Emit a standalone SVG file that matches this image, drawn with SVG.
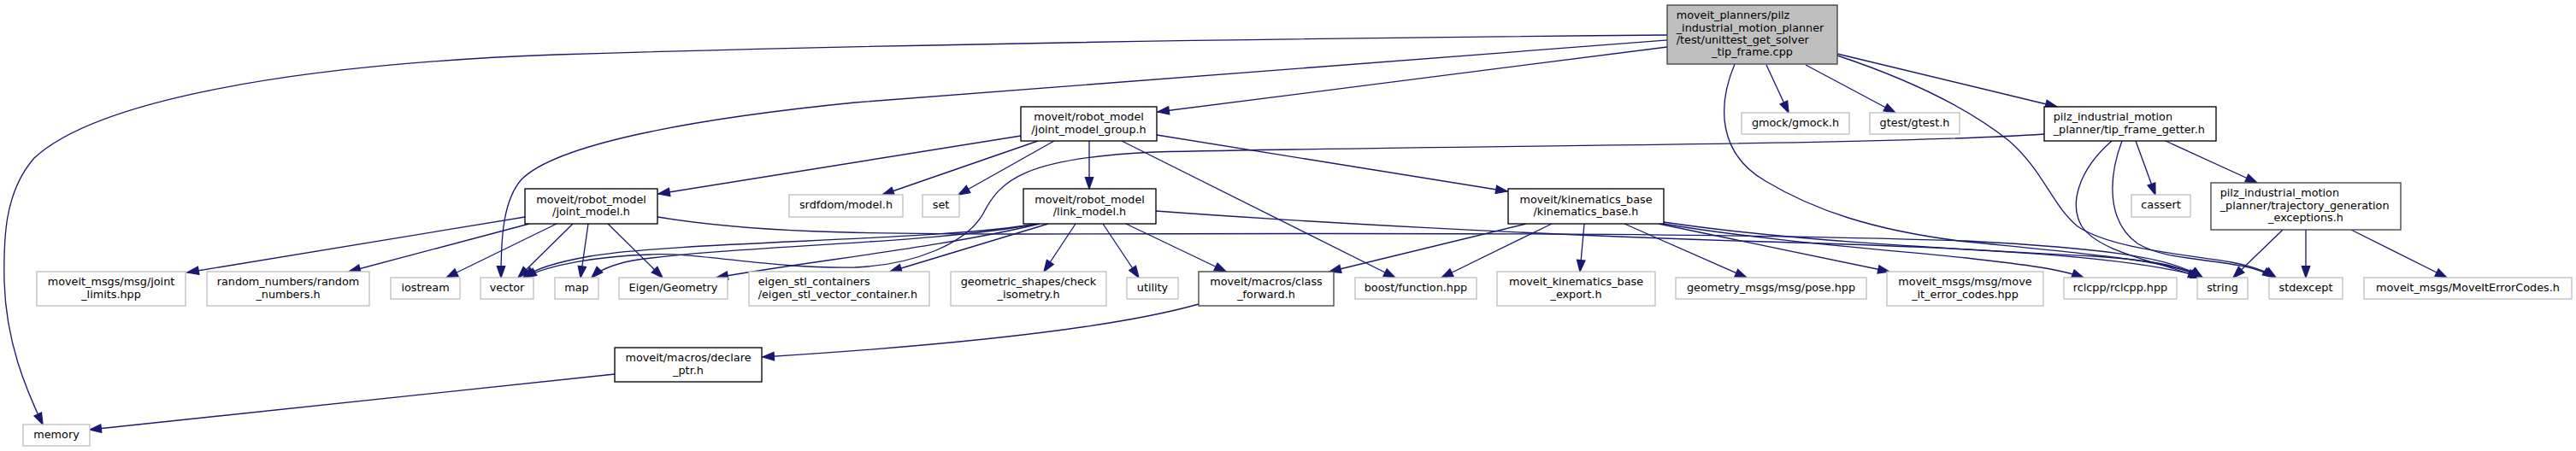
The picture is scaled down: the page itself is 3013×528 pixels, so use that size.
<svg xmlns="http://www.w3.org/2000/svg" width="3013" height="528" viewBox="0 0 3013 528">
<style>
text{font-family:"DejaVu Sans","Liberation Sans",sans-serif;font-size:12.8px;fill:#000}
.c{text-anchor:middle}
.l{text-anchor:start}
rect.n{fill:#fff;stroke-width:1.33}
.doc{stroke:#000}
.doc2{stroke:#404040}
.und{stroke:#bfbfbf}
.main{fill:#bfbfbf !important;stroke:#404040}
.e{fill:none;stroke:#191970;stroke-width:1.33;marker-end:url(#ah)}
</style>
<defs>
<marker id="ah" markerUnits="userSpaceOnUse" markerWidth="16" markerHeight="12" refX="13.3" refY="4.67" orient="auto" overflow="visible">
<path d="M0,0 L13.3,4.67 L0,9.33 z" fill="#191970" stroke="#191970" stroke-width="1.33"/>
</marker>
</defs>
<rect width="3013" height="528" fill="#fff"/>
<g id="edges">
<path class="e" d="M1950,41 C1600,44 1100,50 650,64 C330,76 110,120 40,185 C5,225 4,280 5,330 C7,400 30,455 50,497"/>
<path class="e" d="M1950,47 C1600,72 1250,100 1000,120 C800,140 650,170 610,210 C588,235 586,280 586,325"/>
<path class="e" d="M1950,55 L1354,131"/>
<path class="e" d="M2066,76 L2092,132"/>
<path class="e" d="M2112,76 L2217,132"/>
<path class="e" d="M2149,63 L2406,125"/>
<path class="e" d="M2029,75 C2008,125 2010,180 2065,212 C2120,245 2190,270 2300,283 C2450,298 2540,305 2576,325"/>
<path class="e" d="M2149,65 C2230,92 2300,125 2350,165 C2390,200 2400,240 2430,265 C2470,292 2560,298 2610,307 C2635,312 2650,317 2662,325"/>
<path class="e" d="M1194,159 L770,227"/>
<path class="e" d="M1214,165 L1032,228"/>
<path class="e" d="M1233,165 L1121,228"/>
<path class="e" d="M1274,165 L1274,221"/>
<path class="e" d="M1353,158 L1763,224"/>
<path class="e" d="M1312,165 L1632,325"/>
<path class="e" d="M614,254 L219,319"/>
<path class="e" d="M619,262 L408,318"/>
<path class="e" d="M651,262 L522,325"/>
<path class="e" d="M670,262 L606,325"/>
<path class="e" d="M688,262 L679,325"/>
<path class="e" d="M711,262 L775,325"/>
<path class="e" d="M769,254 C880,272 1000,274 1200,274 C1600,273 2000,272 2300,282 C2450,290 2540,300 2576,325"/>
<path class="e" d="M1212,262 C1100,282 800,282 690,300 C650,307 625,315 612,325"/>
<path class="e" d="M1212,262 C1100,285 850,288 740,305 C715,310 700,317 692,325"/>
<path class="e" d="M1216,262 C1100,290 950,305 838,325"/>
<path class="e" d="M1226,262 L1041,318"/>
<path class="e" d="M1258,262 L1221,318"/>
<path class="e" d="M1290,262 L1332,325"/>
<path class="e" d="M1317,262 L1434,318"/>
<path class="e" d="M1352,247 C1500,258 1800,276 2100,284 C2300,290 2500,300 2576,325"/>
<path class="e" d="M1785,262 L1555,318"/>
<path class="e" d="M1815,262 L1686,325"/>
<path class="e" d="M1853,262 L1848,318"/>
<path class="e" d="M1900,262 L2043,325"/>
<path class="e" d="M1940,262 L2210,318"/>
<path class="e" d="M1946,262 C2050,280 2200,292 2300,302 C2370,310 2410,315 2437,325"/>
<path class="e" d="M1946,260 C2100,283 2300,292 2450,300 C2520,305 2555,312 2576,325"/>
<path class="e" d="M2391,157 C2200,170 1700,170 1350,178 C1200,185 1170,210 1150,250 C1130,285 1070,310 1000,313 C900,315 820,295 760,298 C700,300 640,310 614,325"/>
<path class="e" d="M2470,165 C2430,200 2420,240 2435,265 C2455,295 2520,305 2573,325"/>
<path class="e" d="M2482,165 C2465,210 2465,260 2500,285 C2540,310 2620,300 2660,325"/>
<path class="e" d="M2498,165 L2521,228"/>
<path class="e" d="M2533,165 L2640,214"/>
<path class="e" d="M2670,269 L2612,325"/>
<path class="e" d="M2697,269 L2697,325"/>
<path class="e" d="M2750,269 L2862,325"/>
<path class="e" d="M1402,356 C1300,385 1100,405 892,418"/>
<path class="e" d="M719,438 L105,503"/>
</g>
<g id="node-main"><rect class="n main" x="1950" y="6" width="199" height="69"/>
<text class="l" x="1960.7" y="22.2">moveit_planners/pilz</text><text class="l" x="1960.7" y="36.6">_industrial_motion_planner</text><text class="l" x="1960.7" y="51">/test/unittest_get_solver</text><text class="c" x="2049.5" y="65.4">_tip_frame.cpp</text></g>
<g id="node-jmg"><rect class="n doc" x="1194" y="125" width="159" height="40"/>
<text class="c" x="1273.5" y="141.1">moveit/robot_model</text><text class="c" x="1273.5" y="155.5">/joint_model_group.h</text></g>
<g id="node-gmock"><rect class="n und" x="2037" y="132" width="126" height="25"/><text class="c" x="2100" y="147.8">gmock/gmock.h</text></g>
<g id="node-gtest"><rect class="n und" x="2187" y="132" width="105" height="25"/><text class="c" x="2239.5" y="147.8">gtest/gtest.h</text></g>
<g id="node-tfg"><rect class="n doc" x="2391" y="125" width="201" height="40"/>
<text class="l" x="2401.7" y="141.1">pilz_industrial_motion</text><text class="l" x="2401.7" y="155.5">_planner/tip_frame_getter.h</text></g>
<g id="node-joint-model"><rect class="n doc" x="614" y="221" width="155" height="41"/>
<text class="c" x="691.5" y="237.6">moveit/robot_model</text><text class="c" x="691.5" y="252">/joint_model.h</text></g>
<g id="node-srdfdom"><rect class="n und" x="923" y="228" width="133" height="26"/><text class="c" x="989.5" y="244.3">srdfdom/model.h</text></g>
<g id="node-set"><rect class="n und" x="1079" y="228" width="43" height="26"/><text class="c" x="1100.5" y="244.3">set</text></g>
<g id="node-link-model"><rect class="n doc" x="1197" y="221" width="155" height="41"/>
<text class="c" x="1274.5" y="237.6">moveit/robot_model</text><text class="c" x="1274.5" y="252">/link_model.h</text></g>
<g id="node-kin-base"><rect class="n doc" x="1764" y="221" width="182" height="41"/>
<text class="c" x="1855" y="237.6">moveit/kinematics_base</text><text class="c" x="1855" y="252">/kinematics_base.h</text></g>
<g id="node-cassert"><rect class="n und" x="2493" y="228" width="69" height="26"/><text class="c" x="2527.5" y="244.3">cassert</text></g>
<g id="node-traj"><rect class="n doc2" x="2586" y="214" width="222" height="55"/>
<text class="l" x="2596.7" y="230.4">pilz_industrial_motion</text><text class="l" x="2596.7" y="244.8">_planner/trajectory_generation</text><text class="c" x="2697" y="259.2">_exceptions.h</text></g>
<g id="node-joint-limits"><rect class="n und" x="43" y="318" width="174" height="40"/>
<text class="c" x="130" y="334.1">moveit_msgs/msg/joint</text><text class="c" x="130" y="348.5">_limits.hpp</text></g>
<g id="node-random"><rect class="n und" x="242" y="318" width="190" height="40"/>
<text class="c" x="337" y="334.1">random_numbers/random</text><text class="c" x="337" y="348.5">_numbers.h</text></g>
<g id="node-iostream"><rect class="n und" x="457" y="325" width="81" height="25"/><text class="c" x="497.5" y="340.8">iostream</text></g>
<g id="node-vector"><rect class="n und" x="562" y="325" width="62" height="25"/><text class="c" x="593" y="340.8">vector</text></g>
<g id="node-map"><rect class="n und" x="649" y="325" width="51" height="25"/><text class="c" x="674.5" y="340.8">map</text></g>
<g id="node-eigen-geom"><rect class="n und" x="724" y="325" width="127" height="25"/><text class="c" x="787.5" y="340.8">Eigen/Geometry</text></g>
<g id="node-eigen-stl"><rect class="n und" x="876" y="318" width="211" height="40"/>
<text class="l" x="886.7" y="334.1">eigen_stl_containers</text><text class="l" x="886.7" y="348.5">/eigen_stl_vector_container.h</text></g>
<g id="node-check-iso"><rect class="n und" x="1112" y="318" width="182" height="40"/>
<text class="c" x="1203" y="334.1">geometric_shapes/check</text><text class="c" x="1203" y="348.5">_isometry.h</text></g>
<g id="node-utility"><rect class="n und" x="1318" y="325" width="60" height="25"/><text class="c" x="1348" y="340.8">utility</text></g>
<g id="node-class-fwd"><rect class="n doc2" x="1402" y="318" width="158" height="40"/>
<text class="c" x="1481" y="334.1">moveit/macros/class</text><text class="c" x="1481" y="348.5">_forward.h</text></g>
<g id="node-boost"><rect class="n und" x="1585" y="325" width="142" height="25"/><text class="c" x="1656" y="340.8">boost/function.hpp</text></g>
<g id="node-kb-export"><rect class="n und" x="1751" y="318" width="185" height="40"/>
<text class="c" x="1843.5" y="334.1">moveit_kinematics_base</text><text class="c" x="1843.5" y="348.5">_export.h</text></g>
<g id="node-pose"><rect class="n und" x="1960" y="325" width="223" height="25"/><text class="c" x="2071.5" y="340.8">geometry_msgs/msg/pose.hpp</text></g>
<g id="node-move-it-err"><rect class="n und" x="2207" y="318" width="183" height="40"/>
<text class="c" x="2298.5" y="334.1">moveit_msgs/msg/move</text><text class="c" x="2298.5" y="348.5">_it_error_codes.hpp</text></g>
<g id="node-rclcpp"><rect class="n und" x="2414" y="325" width="132" height="25"/><text class="c" x="2480" y="340.8">rclcpp/rclcpp.hpp</text></g>
<g id="node-string"><rect class="n und" x="2570" y="325" width="59" height="25"/><text class="c" x="2599.5" y="340.8">string</text></g>
<g id="node-stdexcept"><rect class="n und" x="2654" y="325" width="86" height="25"/><text class="c" x="2697" y="340.8">stdexcept</text></g>
<g id="node-error-codes"><rect class="n und" x="2765" y="325" width="243" height="25"/><text class="c" x="2886.5" y="340.8">moveit_msgs/MoveItErrorCodes.h</text></g>
<g id="node-declare-ptr"><rect class="n doc" x="719" y="407" width="172" height="40"/>
<text class="c" x="805" y="423.1">moveit/macros/declare</text><text class="c" x="805" y="437.5">_ptr.h</text></g>
<g id="node-memory"><rect class="n und" x="27" y="497" width="78" height="25"/><text class="c" x="66" y="512.8">memory</text></g>
</svg>
